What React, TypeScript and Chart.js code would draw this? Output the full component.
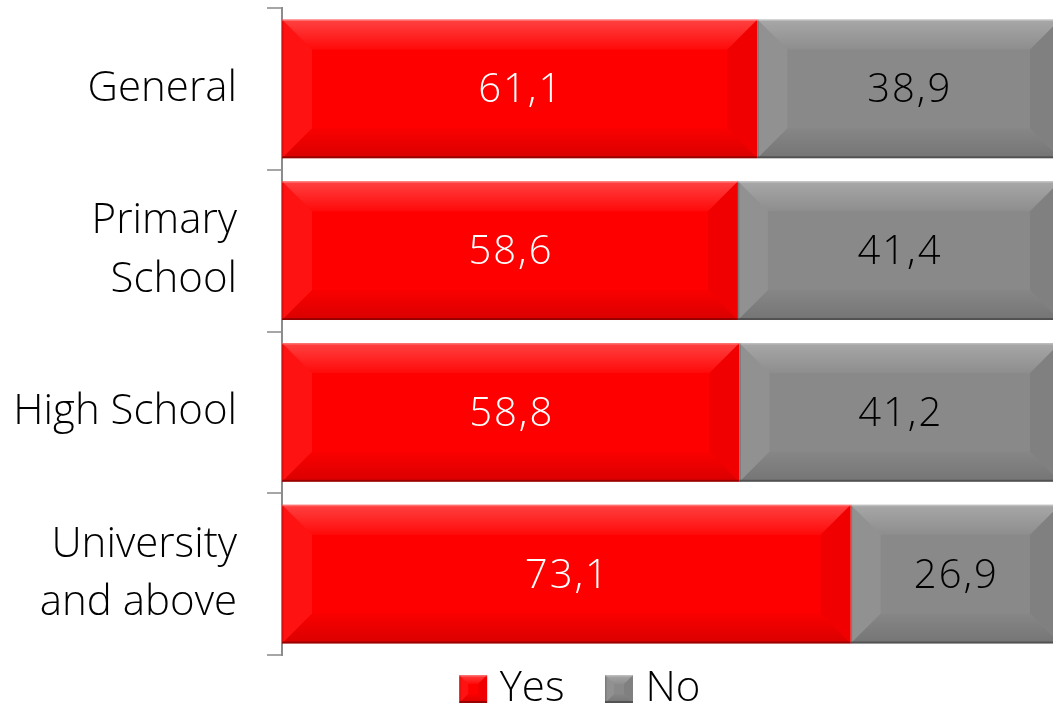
import React, { useEffect, useRef } from "react";
import { Chart, registerables } from "chart.js";

Chart.register(...registerables);

const categories: (string | string[])[] = ["General", ["Primary", "School"], "High School", ["University", "and above"]];
const yesValues = [61.1, 58.6, 58.8, 73.1];
const noValues = [38.9, 41.4, 41.2, 26.9];
const seriesNames = ["Yes", "No"];
const seriesColors = ["#ff0000", "#898989"];
const labelColors = ["#ffffff", "#000000"];

const FONT = "'Open Sans', 'DejaVu Sans', sans-serif";

function drawBevel(ctx: CanvasRenderingContext2D, x0: number, y0: number, x1: number, y1: number, b: number) {
  const w = x1 - x0;
  const h = y1 - y0;
  const bx = Math.min(b, w / 2);
  const by = Math.min(b, h / 2);
  ctx.save();
  let g = ctx.createLinearGradient(0, y0, 0, y0 + by);
  g.addColorStop(0, "rgba(255,255,255,0.26)");
  g.addColorStop(1, "rgba(255,255,255,0.04)");
  ctx.fillStyle = g;
  ctx.beginPath();
  ctx.moveTo(x0, y0);
  ctx.lineTo(x1, y0);
  ctx.lineTo(x1 - bx, y0 + by);
  ctx.lineTo(x0 + bx, y0 + by);
  ctx.closePath();
  ctx.fill();
  ctx.fillStyle = "rgba(255,255,255,0.07)";
  ctx.beginPath();
  ctx.moveTo(x0, y0);
  ctx.lineTo(x0 + bx, y0 + by);
  ctx.lineTo(x0 + bx, y1 - by);
  ctx.lineTo(x0, y1);
  ctx.closePath();
  ctx.fill();
  ctx.fillStyle = "rgba(0,0,0,0.06)";
  ctx.beginPath();
  ctx.moveTo(x1, y0);
  ctx.lineTo(x1 - bx, y0 + by);
  ctx.lineTo(x1 - bx, y1 - by);
  ctx.lineTo(x1, y1);
  ctx.closePath();
  ctx.fill();
  g = ctx.createLinearGradient(0, y1 - by, 0, y1);
  g.addColorStop(0, "rgba(0,0,0,0.02)");
  g.addColorStop(1, "rgba(0,0,0,0.15)");
  ctx.fillStyle = g;
  ctx.beginPath();
  ctx.moveTo(x0, y1);
  ctx.lineTo(x1, y1);
  ctx.lineTo(x1 - bx, y1 - by);
  ctx.lineTo(x0 + bx, y1 - by);
  ctx.closePath();
  ctx.fill();
  ctx.fillStyle = "rgba(0,0,0,0.3)";
  ctx.fillRect(x0, y1 - 2, w, 2);
  ctx.fillStyle = "rgba(0,0,0,0.15)";
  ctx.fillRect(x0, y0, 1.5, h);
  ctx.fillStyle = "rgba(255,255,255,0.25)";
  ctx.fillRect(x0, y0, w, 1.5);
  ctx.restore();
}

// legend icon: 28px bevelled square placed inside a wider transparent canvas (for spacing)
function legendIcon(color: string): HTMLCanvasElement {
  const W = 66;
  const o = 37;
  const c = document.createElement("canvas");
  c.width = W;
  c.height = 28;
  const ctx = c.getContext("2d")!;
  ctx.fillStyle = color;
  ctx.fillRect(o, 0, 28, 28);
  drawBevel(ctx, o, 0, o + 28, 28, 9);
  return c;
}

const bevelPlugin = {
  id: "bevelLabels",
  afterLayout(chart: any) {
    if (chart.legend) {
      chart.legend.left += 36;
      chart.legend.right += 36;
    }
  },
  afterDatasetsDraw(chart: any) {
    const ctx = chart.ctx as CanvasRenderingContext2D;
    chart.data.datasets.forEach((ds: any, di: number) => {
      const meta = chart.getDatasetMeta(di);
      meta.data.forEach((el: any, i: number) => {
        const x0 = Math.min(el.base, el.x);
        const x1 = Math.max(el.base, el.x);
        const y0 = el.y - el.height / 2;
        const y1 = el.y + el.height / 2;
        drawBevel(ctx, x0, y0, x1, y1, 30);
        const v = ds.data[i] as number;
        ctx.save();
        ctx.fillStyle = labelColors[di];
        ctx.font = `300 40px ${FONT}`;
        (ctx as any).letterSpacing = "2px";
        ctx.textAlign = "center";
        ctx.textBaseline = "middle";
        ctx.fillText(v.toFixed(1).replace(".", ","), (x0 + x1) / 2 + 1, el.y + 2);
        ctx.restore();
      });
    });
  },
};

export default function App() {
  const ref = useRef<HTMLCanvasElement>(null);
  useEffect(() => {
    document.body.style.margin = "0";
    document.body.style.overflow = "hidden";
    const icons = [legendIcon(seriesColors[0]), legendIcon(seriesColors[1])];
    const chart = new Chart(ref.current!, {
      type: "bar",
      data: {
        labels: categories,
        datasets: [
          { label: seriesNames[0], data: yesValues, backgroundColor: seriesColors[0], pointStyle: icons[0] as any },
          { label: seriesNames[1], data: noValues, backgroundColor: seriesColors[1], pointStyle: icons[1] as any },
        ],
      },
      options: {
        indexAxis: "y",
        animation: false,
        responsive: false,
        maintainAspectRatio: false,
        layout: { padding: { top: 8, right: 0, bottom: 0, left: 0 } },
        datasets: { bar: { barPercentage: 1, categoryPercentage: 0.858 } },
        scales: {
          x: { stacked: true, min: 0, max: 100, display: false },
          y: {
            stacked: true,
            offset: true,
            afterFit: (s: any) => {
              s.width = 282;
              s.paddingTop = 0;
              s.paddingBottom = 0;
            },
            grid: { offset: true, drawOnChartArea: false, drawTicks: true, tickLength: 15, color: "#a6a6a6", lineWidth: 2 },
            border: { display: true, color: "#8c8c8c", width: 2 },
            ticks: { color: "#000000", font: { family: FONT, size: 42, weight: 300 as any, lineHeight: 1.4 }, padding: 30 },
          },
        },
        plugins: {
          tooltip: { enabled: false },
          legend: {
            position: "bottom",
            labels: {
              usePointStyle: true,
              pointStyleWidth: 47,
              color: "#000",
              font: { family: FONT, size: 42, weight: 300 as any },
              padding: 13,
              boxWidth: 47,
              boxHeight: 42,
            },
          },
        },
      },
      plugins: [bevelPlugin],
    });
    return () => chart.destroy();
  }, []);
  return (
    <div style={{ position: "fixed", left: 0, top: 0, width: 1053, height: 706, overflow: "hidden", background: "#fff" }}>
      <canvas ref={ref} width={1060} height={720} style={{ display: "block", width: 1060, height: 720 }} />
    </div>
  );
}
